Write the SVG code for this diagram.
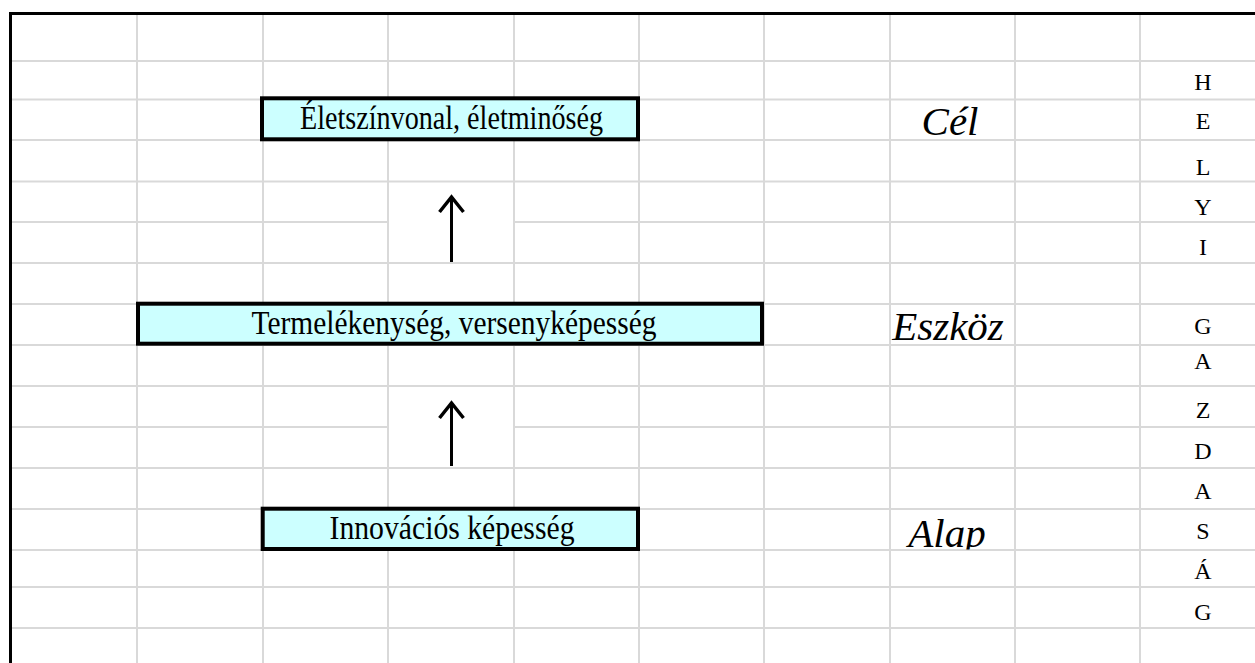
<svg xmlns="http://www.w3.org/2000/svg" width="1255" height="663" viewBox="0 0 1255 663">
<style>
.g{stroke:#d9d9d9;stroke-width:2;fill:none}
.box{fill:#ccffff;stroke:#000;stroke-width:4}
.bt{font-family:"Liberation Serif","Times New Roman",serif;font-size:34px;fill:#000;text-anchor:middle}
.lab{font-family:"Liberation Serif","Times New Roman",serif;font-size:41px;font-style:italic;fill:#000;text-anchor:middle}
.v{font-family:"Liberation Serif","Times New Roman",serif;font-size:24px;fill:#000;text-anchor:middle}
.arr{stroke:#000;stroke-width:3;fill:none}
</style>
<defs>
<marker id="head" viewBox="0 0 20 28" markerWidth="20" markerHeight="28" refX="17" refY="14" orient="auto" markerUnits="userSpaceOnUse">
<path d="M2,2 L17,14 L2,26" fill="none" stroke="#000" stroke-width="3.5"/>
</marker>
<clipPath id="alapClip"><rect x="880" y="500" width="140" height="49.5"/></clipPath>
</defs>
<rect width="1255" height="663" fill="#fff"/>
<g id="grid">
<path class="g" d="M137,15V663M263,15V663M388,15V663M514,15V663M639,15V663M764,15V663M890,15V663M1015,15V663M1140,15V663"/>
<path class="g" d="M12,61H1255M12,99.5H1255M12,140H1255M12,181.5H1255M12,222H388M514,222H1255M12,263H1255M12,304H1255M12,345H1255M12,386H1255M12,427H388M514,427H1255M12,468H1255M12,509H1255M12,550H1255M12,587H1255M12,628H1255"/>
</g>
<g id="connectors">
<line class="arr" x1="451.5" y1="262" x2="451.5" y2="197" marker-end="url(#head)"/>
<line class="arr" x1="451.5" y1="466" x2="451.5" y2="403" marker-end="url(#head)"/>
</g>
<g id="node-eletszinvonal">
<rect class="box" x="262" y="98.3" width="376" height="41"/>
<text class="bt" x="451.5" y="129" textLength="303" lengthAdjust="spacingAndGlyphs">Életszínvonal, életminőség</text>
</g>
<g id="node-termelekenyseg">
<rect class="box" x="138" y="303.7" width="624" height="40"/>
<text class="bt" x="454" y="334" textLength="405" lengthAdjust="spacingAndGlyphs">Termelékenység, versenyképesség</text>
</g>
<g id="node-innovacio">
<rect class="box" x="262.7" y="508.7" width="375.3" height="40.3"/>
<text class="bt" x="452" y="539" textLength="245" lengthAdjust="spacingAndGlyphs">Innovációs képesség</text>
</g>
<g id="label-cel"><text class="lab" x="950" y="135">Cél</text></g>
<g id="label-eszkoz"><text class="lab" x="948" y="340">Eszköz</text></g>
<g id="label-alap"><text class="lab" x="947" y="547" clip-path="url(#alapClip)">Alap</text></g>
<g id="vertical-text">
<text class="v" x="1203" y="90">H</text>
<text class="v" x="1203" y="128.5">E</text>
<text class="v" x="1203" y="175">L</text>
<text class="v" x="1203" y="215">Y</text>
<text class="v" x="1203" y="255">I</text>
<text class="v" x="1203" y="333.5">G</text>
<text class="v" x="1203" y="368.5">A</text>
<text class="v" x="1203" y="418">Z</text>
<text class="v" x="1203" y="458.5">D</text>
<text class="v" x="1203" y="498.5">A</text>
<text class="v" x="1203" y="538.5">S</text>
<text class="v" x="1203" y="578.5">Á</text>
<text class="v" x="1203" y="620">G</text>
</g>
<g id="frame">
<path d="M10.5,663V13.5H1255" fill="none" stroke="#000" stroke-width="3"/>
</g>
</svg>
